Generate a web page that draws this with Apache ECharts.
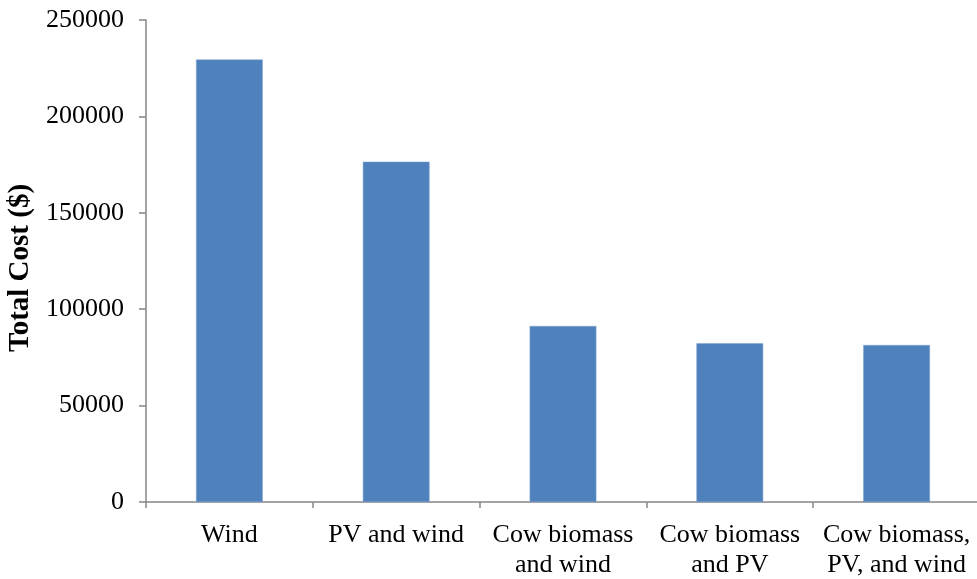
<!DOCTYPE html>
<html>
<head>
<meta charset="utf-8">
<script src="https://cdn.jsdelivr.net/npm/echarts@6/dist/echarts.min.js"></script>
<style>html,body{margin:0;padding:0;background:#fff;}#c{width:977px;height:579px;}</style>
</head>
<body>
<div id="c"></div>
<script>
var categories = ["Wind", "PV and wind", "Cow biomass\nand wind", "Cow biomass\nand PV", "Cow biomass,\nPV, and wind"];
var costs = [229500, 176500, 91300, 82300, 81400];
var yTicks = [0, 50000, 100000, 150000, 200000, 250000];

var chart = echarts.init(document.getElementById('c'), null, {renderer: 'canvas'});
var font = '"Liberation Serif", "Times New Roman", serif';
chart.setOption({
  animation: false,
  backgroundColor: '#ffffff',
  grid: {left: 146, right: -3, top: 20, bottom: 77, containLabel: false, outerBoundsMode: 'none'},
  xAxis: {
    type: 'category',
    data: categories,
    axisLine: {lineStyle: {color: '#868686', width: 1.5}},
    axisTick: {show: true, alignWithLabel: false, length: 6, lineStyle: {color: '#868686', width: 1.5}},
    axisLabel: {color: '#000', fontFamily: font, fontSize: 26, lineHeight: 30, margin: 18, interval: 0, hideOverlap: false}
  },
  yAxis: {
    type: 'value',
    min: yTicks[0],
    max: yTicks[yTicks.length - 1],
    interval: 50000,
    name: 'Total Cost ($)',
    nameLocation: 'middle',
    nameGap: 106,
    nameRotate: 90,
    nameTextStyle: {color: '#000', fontFamily: font, fontSize: 29, fontWeight: 'bold', padding: [0, 14, 0, 0]},
    axisLine: {show: true, lineStyle: {color: '#868686', width: 1.5}},
    axisTick: {show: true, length: 7, lineStyle: {color: '#868686', width: 1.5}},
    axisLabel: {color: '#000', fontFamily: font, fontSize: 26, margin: 22, formatter: function (v) { return String(v); }},
    splitLine: {show: false}
  },
  series: [{
    type: 'bar',
    data: costs,
    barWidth: '40%',
    itemStyle: {color: '#4F81BD', borderColor: '#7FA3CF', borderWidth: 0.5}
  }]
});
</script>
</body>
</html>
